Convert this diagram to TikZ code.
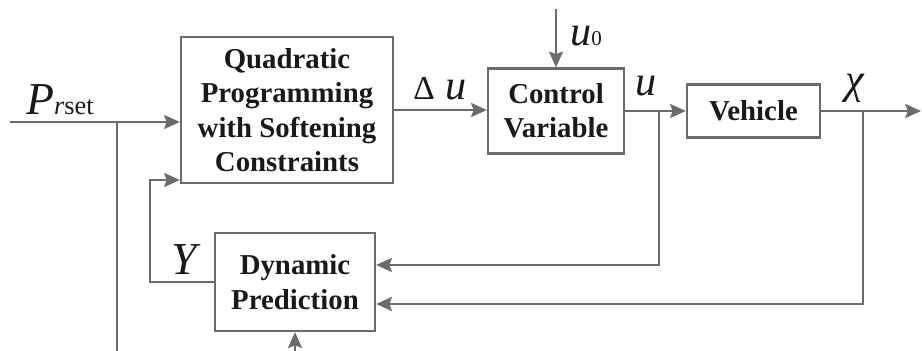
\documentclass[tikz,border=0pt]{standalone}
\usepackage{fontspec}
\setmainfont{Liberation Serif}
\usetikzlibrary{arrows.meta}
\definecolor{linegray}{HTML}{6B6B6B}
\begin{document}
\begin{tikzpicture}[x=0.02cm, y=-0.02cm,
    block/.style={draw=linegray, line width=1.3pt, align=center, inner sep=0pt,
        font=\fontsize{16.4}{19.6}\selectfont\bfseries, text=black!90},
    wire/.style={draw=linegray, line width=1.1pt},
    arr/.style={wire, -{Stealth[length=9pt, width=8pt, inset=1.5pt]}},
    sig/.style={font=\fontsize{24}{24}\selectfont\itshape, text=black!90, inner sep=0pt}]
    \useasboundingbox (0,0) rectangle (922,351);

    % blocks
    \node [block, minimum width=4.24cm, minimum height=2.92cm] (qp) at (287,110) {Quadratic\\Programming\\with Softening\\Constraints};
    \node [block, minimum width=2.72cm, minimum height=1.7cm] (cv) at (556,111) {Control\\Variable};
    \node [block, minimum width=2.66cm, minimum height=1.06cm] (veh) at (753.5,111) {Vehicle};
    \node [block, minimum width=3.2cm, minimum height=1.96cm] (dp) at (295,282) {Dynamic\\Prediction};

    % free ends and branch points
    \coordinate (pin) at (10,122);
    \coordinate (pbr) at (117,122);
    \coordinate (pbot) at (117,351);
    \coordinate (ycorner) at (150,282);
    \coordinate (u0in) at (556,9);
    \coordinate (ubr) at (659,111);
    \coordinate (xbr) at (863,111);
    \coordinate (xout) at (921,111);
    \coordinate (dpin) at (295,351);

    % connectors
    \draw [arr] (pin) -- (pin -| qp.west);
    \draw [wire] (pbr) -- (pbot);
    \draw [arr] (dp.west) -- (ycorner) |- (qp.west |- 0,180);
    \draw [arr] (qp.east) -- (qp.east -| cv.west);
    \draw [arr] (u0in) -- (cv.north);
    \draw [arr] (cv.east) -- (veh.west);
    \draw [arr] (veh.east) -- (xout);
    \draw [arr] (ubr) |- (dp.east |- 0,265);
    \draw [arr] (xbr) |- (dp.east |- 0,304);
    \draw [arr] (dpin) -- (dp.south);

    % signal labels
    \node [sig] (prset) at (60,100) {{\fontsize{26}{26}\selectfont P}{\fontsize{15}{15}\selectfont r\upshape set}};
    \node [sig] (du) at (440,89) {{\fontsize{19}{19}\selectfont\upshape Δ}\ u};
    \node [sig] (u0) at (586,36) {u{\fontsize{12}{12}\selectfont\upshape 0}};
    \node [sig] (ulab) at (646,86) {u};
    \node [sig] (chi) at (855,88) {χ};
    \node [sig] (ylab) at (184,260) {{\fontsize{26}{26}\selectfont Y}};
\end{tikzpicture}
\end{document}
